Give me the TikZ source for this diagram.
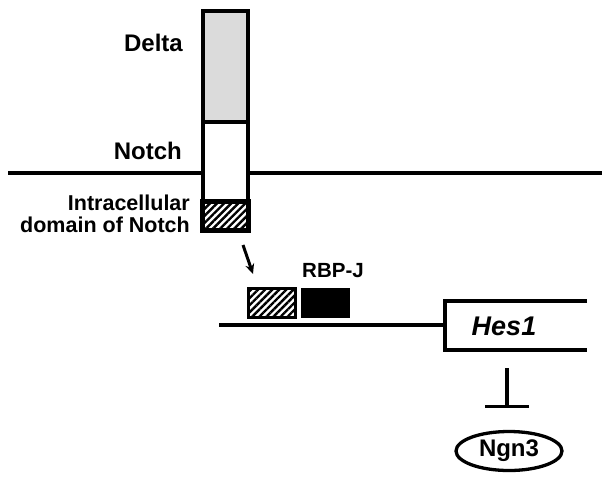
\documentclass[tikz,border=0pt]{standalone}
\usepackage{fontspec}
\setmainfont{Liberation Sans}
\usetikzlibrary{patterns.meta,arrows.meta,shapes.geometric}
\begin{document}
\begin{tikzpicture}[x=1pt,y=-1pt,
  thick line/.style={line width=3.3pt},
  boxline/.style={draw=black,line width=3.3pt,inner sep=0pt,minimum width=0pt,minimum height=0pt},
  hatch/.style={pattern={Lines[angle=45,distance=5pt,line width=2.4pt]},pattern color=black},
  lbl/.style={font=\bfseries\fontsize{24}{24}\selectfont,inner sep=0pt},
  slbl/.style={font=\bfseries\fontsize{21.5}{22}\selectfont,inner sep=0pt,align=right},
  rlbl/.style={font=\bfseries\fontsize{20.5}{22}\selectfont,inner sep=0pt}]
\useasboundingbox[fill=white] (0,0) rectangle (602,477);
% membrane
\coordinate (mL) at (8,173);
\coordinate (mR) at (602,173);
\draw[thick line] (mL) -- (mR);
% receptor boxes
\node[boxline,fill=black!14,minimum width=45pt,minimum height=111pt] (delta) at (225.5,66.5) {};
\node[boxline,fill=white,minimum width=45pt,minimum height=80pt] (notch) at (225.5,162) {};
\node[boxline,fill=white,minimum width=45pt,minimum height=28pt] (icd) at (225.5,216) {};
\fill[hatch] (icd.south west) rectangle (icd.north east);
\draw[line width=3.3pt] (icd.south west) rectangle (icd.north east);
% labels
\node[lbl,anchor=east] (tDelta) at (183,43) {Delta};
\node[lbl,anchor=east] (tNotch) at (182,151) {Notch};
\node[slbl,anchor=east] (tICD) at (190,214) {Intracellular\\domain of Notch};
% arrow
\coordinate (a1) at (243,245);
\coordinate (a2) at (253,274);
\draw[line width=3pt,-{Stealth[length=10pt,width=9pt]}] (a1) -- (a2);
% RBP-J
\node[rlbl,anchor=center] (tRBP) at (333,271) {RBP-J};
\node[boxline,line width=2pt,minimum width=46pt,minimum height=28pt] (ncd) at (272,303) {};
\fill[hatch] (ncd.south west) rectangle (ncd.north east);
\draw[line width=2pt] (ncd.south west) rectangle (ncd.north east);
\node[boxline,line width=2pt,fill=black,minimum width=47pt,minimum height=28pt] (rbp) at (325.5,303) {};
% DNA and gene
\coordinate (dL) at (219,325);
\coordinate (gTR) at (587,301);
\coordinate (gTL) at (445,301);
\coordinate (gBL) at (445,350);
\coordinate (gBR) at (587,350);
\draw[thick line] (dL) -- (gTL |- dL);
\draw[thick line] (gTR) -- (gTL) -- (gBL) -- (gBR);
\node[lbl,font=\bfseries\itshape\fontsize{27}{27}\selectfont] (hes) at (504,326) {Hes1};
% inhibition
\coordinate (i1) at (507,368);
\coordinate (i2) at (507,408);
\draw[thick line,-{Bar[width=44pt,line width=3.3pt]}] (i1) -- (i2);
% Ngn3
\node[ellipse,draw,line width=3.3pt,minimum width=106pt,minimum height=39pt,inner sep=0pt,font=\bfseries\fontsize{24}{24}\selectfont] (ngn) at (509,451) {Ngn3};
\end{tikzpicture}
\end{document}
